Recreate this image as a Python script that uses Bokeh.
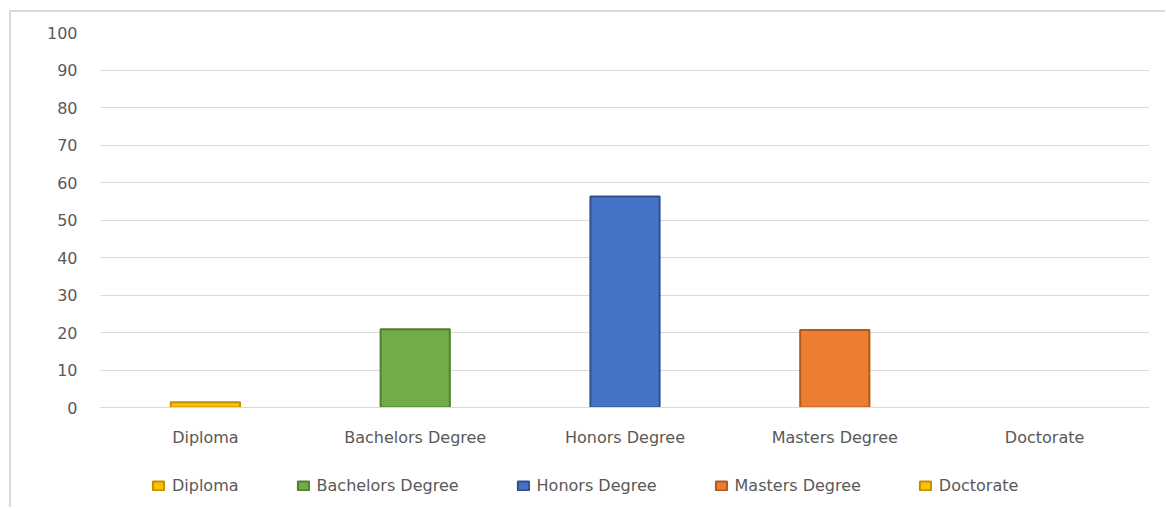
from bokeh.plotting import figure
from bokeh.layouts import column
from bokeh.models import ColumnDataSource, FactorRange, Range1d, FixedTicker, Legend, LegendItem
from bokeh.embed import file_html
from bokeh.resources import INLINE

categories = ["Diploma", "Bachelors Degree", "Honors Degree", "Masters Degree", "Doctorate"]
values = [1.4, 20.9, 56.3, 20.7, 0.0]
y_ticks = [0, 10, 20, 30, 40, 50, 60, 70, 80, 90, 100]

fill_colors = ["#FFC000", "#70AD47", "#4472C4", "#ED7D31", "#FFC000"]
line_colors = ["#BF9000", "#507E32", "#2F528F", "#AE5A21", "#BF9000"]

FONT = "DejaVu Sans"
TXT = "#595959"
GRID = "#D9D9D9"

source = ColumnDataSource(dict(
    cat=categories,
    val=values,
    fill=fill_colors,
    line=line_colors,
    la=[1.0 if v > 0 else 0.0 for v in values],
))

p = figure(
    width=1154, height=455,
    x_range=FactorRange(*categories, range_padding=0),
    y_range=Range1d(0, 100),
    output_backend="svg", toolbar_location=None,
    min_border_left=89, min_border_right=16, min_border_top=20, min_border_bottom=60,
)
p.outline_line_color = None
p.background_fill_color = "white"
p.border_fill_color = "white"

p.vbar(x="cat", top="val", bottom=0, width=0.33, source=source,
       fill_color="fill", line_color="line", line_width=2, line_alpha="la")

# y axis
p.yaxis.ticker = FixedTicker(ticks=y_ticks)
p.yaxis.axis_line_color = None
p.yaxis.major_tick_line_color = None
p.yaxis.minor_tick_line_color = None
p.yaxis.major_tick_in = 0
p.yaxis.major_tick_out = 0
p.yaxis.major_label_standoff = 23
p.yaxis.major_label_text_font = FONT
p.yaxis.major_label_text_font_size = "16px"
p.yaxis.major_label_text_color = TXT

# x axis
p.xaxis.axis_line_color = GRID
p.xaxis.axis_line_width = 1
p.xaxis.major_tick_line_color = None
p.xaxis.minor_tick_line_color = None
p.xaxis.major_tick_in = 0
p.xaxis.major_tick_out = 0
p.xaxis.major_label_standoff = 20
p.xaxis.major_label_text_font = FONT
p.xaxis.major_label_text_font_size = "16px"
p.xaxis.major_label_text_color = TXT

p.xgrid.grid_line_color = None
p.ygrid.grid_line_color = GRID
p.ygrid.grid_line_width = 1

# legend strip: a second figure holding a hidden copy of the bars,
# used only so the legend can draw their swatches below the axis
q = figure(
    width=1154, height=40,
    x_range=FactorRange(*categories, range_padding=0), y_range=Range1d(1000, 1001),
    output_backend="svg", toolbar_location=None,
    x_axis_location=None, y_axis_location=None,
    min_border_left=0, min_border_right=0, min_border_top=0, min_border_bottom=0,
)
q.outline_line_color = None
q.xgrid.grid_line_color = None
q.ygrid.grid_line_color = None
q.background_fill_color = "white"
q.border_fill_color = "white"

rq = q.vbar(x="cat", top="val", bottom=0, width=0.33, source=source,
            fill_color="fill", line_color="line", line_width=2)
rq.visible = False

items = [LegendItem(label=c, renderers=[rq], index=i) for i, c in enumerate(categories)]

legend = Legend(items=items, orientation="horizontal", location=(51, 12))
legend.click_policy = "none"
legend.glyph_width = 14
legend.glyph_height = 11
legend.label_standoff = 7
legend.spacing = 57
legend.padding = 0
legend.margin = 0
legend.border_line_color = None
legend.background_fill_alpha = 0
legend.inactive_fill_alpha = 0
legend.label_text_font = FONT
legend.label_text_font_size = "16px"
legend.label_text_color = TXT
q.add_layout(legend, "center")

layout = column(p, q, spacing=0)
layout.styles = {
    "margin-left": "9px", "margin-top": "10px",
    "border-left": "2px solid #D9D9D9", "border-top": "2px solid #D9D9D9",
}

open("out.html", "w").write(file_html(layout, INLINE))
